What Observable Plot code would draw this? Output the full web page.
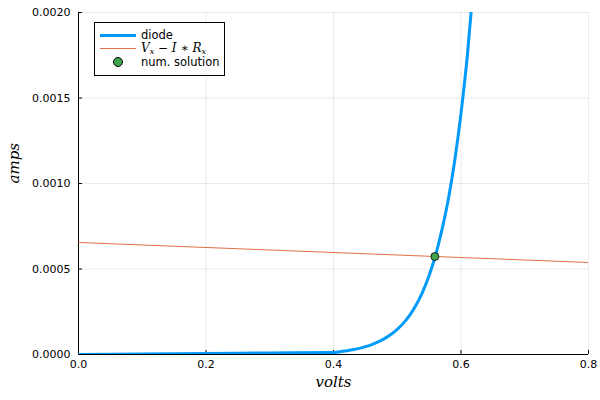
<!DOCTYPE html>
<html>
<head>
<meta charset="utf-8">
<script src="https://cdn.jsdelivr.net/npm/d3@7"></script>
<script src="https://cdn.jsdelivr.net/npm/@observablehq/plot@0.6"></script>
<style>
  html, body { margin: 0; padding: 0; background: #fff; }
  #wrap { position: relative; width: 600px; height: 400px; font-family: "DejaVu Sans", sans-serif; }
  #legend { position: absolute; left: 94px; top: 22px; width: 129px; height: 52px; border: 1px solid #000; background: #fff; font-size: 11.5px; }
  .row { position: absolute; left: 0; height: 14px; line-height: 14px; }
  .sw { position: absolute; left: 5px; width: 36px; }
  .lab { position: absolute; left: 46px; white-space: nowrap; }
  .math { font-family: "DejaVu Serif", "Liberation Serif", serif; font-style: italic; font-size: 12px; }
  .math sub { font-size: 8px; vertical-align: -2px; }
</style>
</head>
<body>
<div id="wrap"></div>
<script>
// ---- data ----
const xTicks = [0, 0.2, 0.4, 0.6, 0.8];
const yTicks = [0, 0.0005, 0.001, 0.0015, 0.002];
const diodeV = [0, 0.1, 0.2, 0.3, 0.4, 0.41, 0.42, 0.43, 0.44, 0.45, 0.46, 0.47, 0.48, 0.49, 0.50, 0.51, 0.52, 0.53, 0.54, 0.55, 0.56, 0.57, 0.58, 0.59, 0.60, 0.61, 0.62];
const diodeI = [0, 0.000003, 0.000006, 0.000009, 0.000012, 0.000016, 0.000022, 0.000028, 0.000036, 0.000046, 0.000058, 0.000074, 0.000093, 0.000117, 0.000147, 0.000185, 0.000232, 0.000292, 0.000368, 0.000462, 0.000580, 0.000727, 0.000905, 0.00113, 0.00141, 0.00175, 0.00218];
const lineV = [0, 0.8];
const lineI = [0.000655, 0.000538];
const solV = [0.559];
const solI = [0.000573];

const diode = diodeV.map((v, i) => ({v, i: diodeI[i]}));
const load = lineV.map((v, i) => ({v, i: lineI[i]}));
const sol = solV.map((v, i) => ({v, i: solI[i]}));

const W = 600, H = 400, mL = 78, mR = 12, mT = 12, mB = 46;
const pw = W - mL - mR, ph = H - mT - mB;

const chart = Plot.plot({
  width: W, height: H,
  marginLeft: mL, marginRight: mR, marginTop: mT, marginBottom: mB,
  style: {fontFamily: "DejaVu Sans, sans-serif", fontSize: "11px", color: "#000", background: "#fff"},
  x: {domain: [0, 0.8], ticks: xTicks, tickFormat: d => d.toFixed(1), tickSize: 0, tickPadding: 6, label: null},
  y: {domain: [0, 0.002], ticks: yTicks, tickFormat: d => d.toFixed(4), tickSize: 0, tickPadding: 8, label: null},
  marks: [
    Plot.gridX(xTicks, {stroke: "#000", strokeOpacity: 0.08}),
    Plot.gridY(yTicks, {stroke: "#000", strokeOpacity: 0.08}),
    Plot.ruleX([0], {stroke: "#000"}),
    Plot.ruleY([0], {stroke: "#000"}),
    Plot.tickX(xTicks, {x: d => d, stroke: "#000", insetTop: ph - 4}),
    Plot.tickY(yTicks, {y: d => d, stroke: "#000", insetRight: pw - 4}),
    Plot.line(load, {x: "v", y: "i", stroke: "#E26F46", strokeWidth: 1, clip: true}),
    Plot.line(diode, {x: "v", y: "i", stroke: "#009AFA", strokeWidth: 3, curve: "monotone-x", clip: true}),
    Plot.dot(sol, {x: "v", y: "i", r: 4, fill: "#3EA44E", stroke: "#000", strokeWidth: 0.8}),
    Plot.axisX({ticks: xTicks, tickFormat: d => d.toFixed(1), tickSize: 0, tickPadding: 6, label: null}),
    Plot.axisY({ticks: yTicks, tickFormat: d => d.toFixed(4), tickSize: 0, tickPadding: 8, label: null}),
    Plot.text(["volts"], {frameAnchor: "bottom", dy: 32, fontFamily: "DejaVu Serif, serif", fontStyle: "italic", fontSize: 15, text: d => d}),
    Plot.text(["amps"], {frameAnchor: "left", dx: -64, rotate: -90, fontFamily: "DejaVu Serif, serif", fontStyle: "italic", fontSize: 15, text: d => d})
  ]
});

const wrap = document.getElementById("wrap");
wrap.appendChild(chart);

const legend = document.createElement("div");
legend.id = "legend";
legend.innerHTML = `
  <div class="row" style="top:5px;width:100%"><div class="sw" style="top:6px;height:3px;background:#009AFA"></div><span class="lab">diode</span></div>
  <div class="row" style="top:18px;width:100%"><div class="sw" style="top:7px;height:1px;background:#E26F46"></div><span class="lab math">V<sub>x</sub> − I ∗ R<sub>x</sub></span></div>
  <div class="row" style="top:32px;width:100%"><div style="position:absolute;left:18px;top:2px;width:8px;height:8px;border-radius:50%;background:#3EA44E;border:1px solid #000"></div><span class="lab">num. solution</span></div>
`;
wrap.appendChild(legend);
</script>
</body>
</html>
